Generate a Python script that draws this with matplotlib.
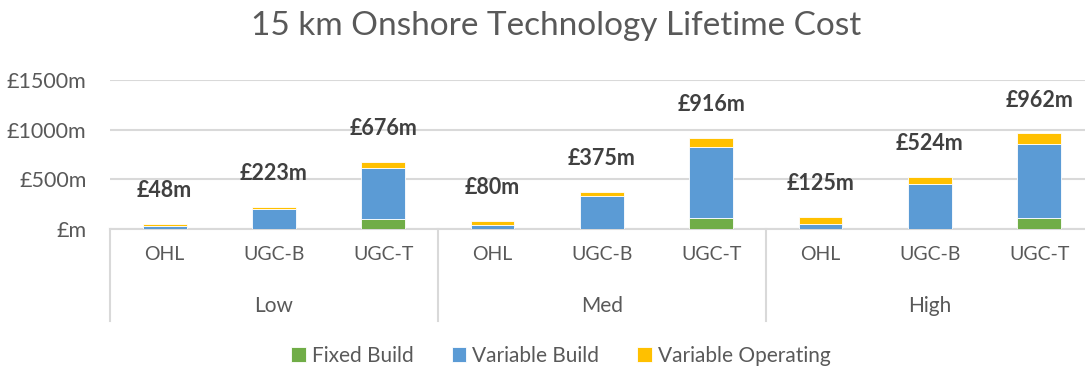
import numpy as np
import matplotlib.pyplot as plt
from matplotlib.transforms import blended_transform_factory

plt.rcParams['font.family'] = ['Lato', 'DejaVu Sans']

# Cost scenarios and technologies
scenarios = ['Low', 'Med', 'High']
technologies = ['OHL', 'UGC-B', 'UGC-T']

# Lifetime cost components, £m (Low OHL..UGC-T, Med ..., High ...)
fixed_build = [0, 0, 105, 0, 0, 110, 0, 0, 112]
variable_build = [35, 198, 508, 40, 330, 712, 50, 454, 743]
variable_operating = [13, 25, 63, 40, 45, 94, 75, 70, 107]
totals = [48, 223, 676, 80, 375, 916, 125, 524, 962]

y_ticks = [0, 500, 1000, 1500]

GREEN = '#70AD47'
BLUE = '#5B9BD5'
YELLOW = '#FFC000'
TEXT = '#595959'
GRID = '#D9D9D9'

W, H = 1085, 372
fig = plt.figure(figsize=(W / 100, H / 100), dpi=100)
ax = fig.add_axes([110 / W, 1 - 229 / H, 1 - 110 / W, 149 / H])

x = np.arange(len(totals))
width = 0.40
fixed = np.array(fixed_build)
var_b = np.array(variable_build)
var_o = np.array(variable_operating)

ax.bar(x, fixed, width, color=GREEN, edgecolor='white', linewidth=0.6,
       label='Fixed Build', zorder=3)
ax.bar(x, var_b, width, bottom=fixed, color=BLUE, edgecolor='white',
       linewidth=0.6, label='Variable Build', zorder=3)
ax.bar(x, var_o, width, bottom=fixed + var_b, color=YELLOW, edgecolor='white',
       linewidth=0.6, label='Variable Operating', zorder=3)

for xi, t in zip(x, totals):
    ax.annotate(f'£{t}m', (xi, t), xytext=(0, 24), textcoords='offset points',
                ha='center', va='center', fontsize=15.5, fontweight='bold',
                color='#404040')

ax.set_xlim(-0.5, 8.42)
ax.set_ylim(0, 1500)
ax.set_yticks(y_ticks)
ax.set_yticklabels(['£m' if v == 0 else f'£{v}m' for v in y_ticks],
                   fontsize=15.5, color=TEXT)
ax.tick_params(axis='y', length=0, pad=17)
ax.set_xticks(x)
ax.set_xticklabels(technologies * len(scenarios), fontsize=14, color=TEXT)
ax.tick_params(axis='x', length=0, pad=12)
ax.yaxis.grid(True, color=GRID, linewidth=1.5, zorder=0)
for s in ['top', 'right', 'left']:
    ax.spines[s].set_visible(False)
ax.spines['bottom'].set_color(GRID)
ax.spines['bottom'].set_linewidth(1.5)

# Scenario group labels and separators below the axis
trans = blended_transform_factory(ax.transData, fig.transFigure)
for i, name in enumerate(scenarios):
    ax.text(3 * i + 1, 1 - 306 / H, name, transform=trans, ha='center',
            va='center', fontsize=15, color=TEXT)
for xs in [-0.5, 2.5, 5.5]:
    ax.plot([xs, xs], [1 - 229 / H, 1 - 321 / H], transform=trans,
            color=GRID, linewidth=1.5, clip_on=False)

fig.text(556 / W, 1 - 26 / H, '15 km Onshore Technology Lifetime Cost',
         ha='center', va='center', fontsize=24, color=TEXT)

fig.legend(loc='center', bbox_to_anchor=(561 / W, 1 - 356 / H), ncol=3,
           frameon=False, fontsize=15, labelcolor=TEXT, handlelength=0.7,
           handleheight=0.7, handletextpad=0.3, columnspacing=1.8)

fig.savefig('out.png', dpi=100)
